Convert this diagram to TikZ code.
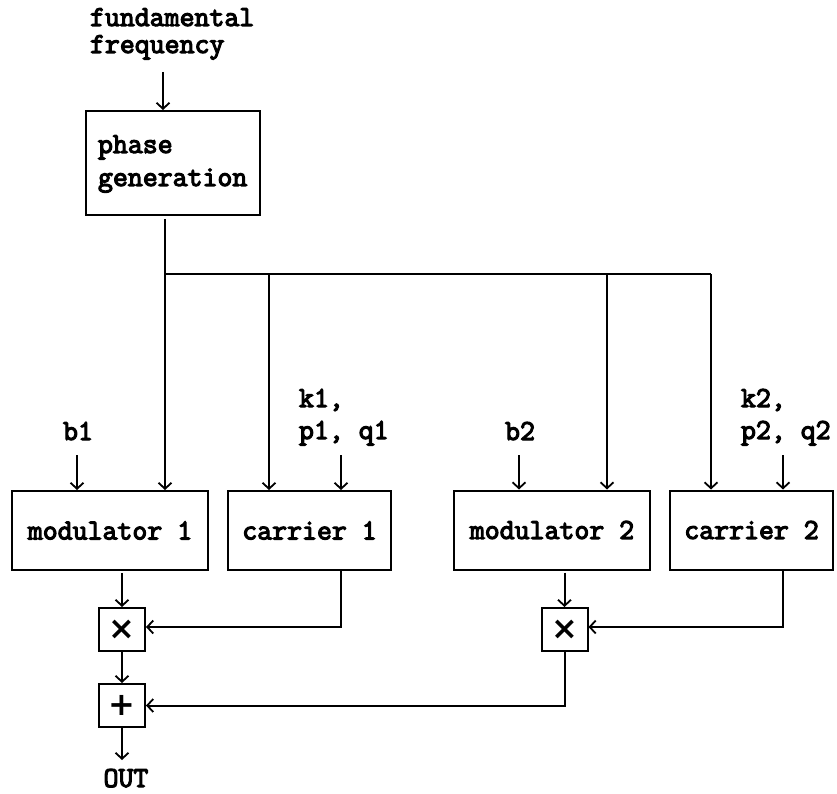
\documentclass[tikz,border=0pt]{standalone}
\usepackage{fontspec}
\newfontfamily\monob{Latin Modern Mono}[FakeBold=4]
\newfontfamily\symf{DejaVu Sans}
\usetikzlibrary{arrows.meta}
\begin{document}
\begin{tikzpicture}[x=1pt,y=-1pt,
  line width=2pt,
  arr/.style={-{Straight Barb[length=6pt,width=13pt,line width=1.8pt]}},
  blk/.style={draw,inner sep=0pt,font=\monob\fontsize{29}{30}\selectfont},
  opbox/.style={draw,inner sep=0pt,minimum width=46pt,minimum height=43pt,font=\symf\bfseries\fontsize{32}{32}\selectfont},
  lbl/.style={inner sep=0pt,text height=17pt,text depth=6pt,font=\monob\fontsize{29}{30}\selectfont}]
\useasboundingbox (0,0) rectangle (837,794);
% labels
\node[lbl,anchor=base west] (ff1) at (89,26) {fundamental};
\node[lbl,anchor=base west] (ff2) at (89,53) {frequency};
\node[lbl,anchor=base] (b1) at (78,440) {b1};
\node[lbl,anchor=base west] (k1a) at (298,407) {k1,};
\node[lbl,anchor=base west] (k1b) at (298,439) {p1, q1};
\node[lbl,anchor=base] (b2) at (520,440) {b2};
\node[lbl,anchor=base west] (k2a) at (740,407) {k2,};
\node[lbl,anchor=base west] (k2b) at (740,439) {p2, q2};
\node[lbl,anchor=base] (out) at (126,787) {OUT};
% blocks
\node[blk,minimum width=174pt,minimum height=104pt] (pg) at (173,163) {};
\node[lbl,anchor=base west] (pgt1) at (97,153) {phase};
\node[lbl,anchor=base west] (pgt2) at (97,186) {generation};
\node[blk,minimum width=196pt,minimum height=79pt] (m1) at (110,530.5) {modulator 1};
\node[blk,minimum width=163pt,minimum height=79pt] (c1) at (309.5,530.5) {carrier 1};
\node[blk,minimum width=196pt,minimum height=79pt] (m2) at (552,530) {modulator 2};
\node[blk,minimum width=163pt,minimum height=79pt] (c2) at (751.5,530) {carrier 2};
\node[opbox] (x1) at (122,629.5) {×};
\node[opbox] (pl) at (122,705.5) {+};
\node[opbox] (x2) at (564.5,629.5) {×};
% coordinates
\coordinate (ffin) at (163,72);
\coordinate (j0) at (165,274);
\coordinate (j1) at (269,274);
\coordinate (j2) at (607,274);
\coordinate (j3) at (711,274);
\coordinate (b1in) at (77,455);
\coordinate (k1in) at (341,455);
\coordinate (b2in) at (519,455);
\coordinate (k2in) at (783,455);
\coordinate (c1o) at (341,627);
\coordinate (c2o) at (783,627);
\coordinate (outc) at (122,760);
% connectors
\draw[arr] (ffin) -- (ffin |- pg.north);
\draw[arr] (j0 |- pg.south) ++(0,3) -- (j0 |- m1.north);
\draw (j0) -- (j3);
\draw[arr] (j1) -- (j1 |- c1.north);
\draw[arr] (j2) -- (j2 |- m2.north);
\draw[arr] (j3) -- (j3 |- c2.north);
\draw[arr] (b1in) -- (b1in |- m1.north);
\draw[arr] (k1in) -- (k1in |- c1.north);
\draw[arr] (b2in) -- (b2in |- m2.north);
\draw[arr] (k2in) -- (k2in |- c2.north);
\draw[arr] (x1.north |- m1.south) ++(0,2) -- (x1.north);
\draw[arr] (c1o |- c1.south) -- (c1o) -- (x1.east |- c1o);
\draw[arr] (x2.north |- m2.south) ++(0,2) -- (x2.north);
\draw[arr] (c2o |- c2.south) -- (c2o) -- (x2.east |- c2o);
\draw[arr] (x1.south) -- (pl.north);
\draw[arr] (x2.south) -- (x2.south |- pl.east) -- (pl.east);
\draw[arr] (pl.south) -- (outc);
\end{tikzpicture}
\end{document}
